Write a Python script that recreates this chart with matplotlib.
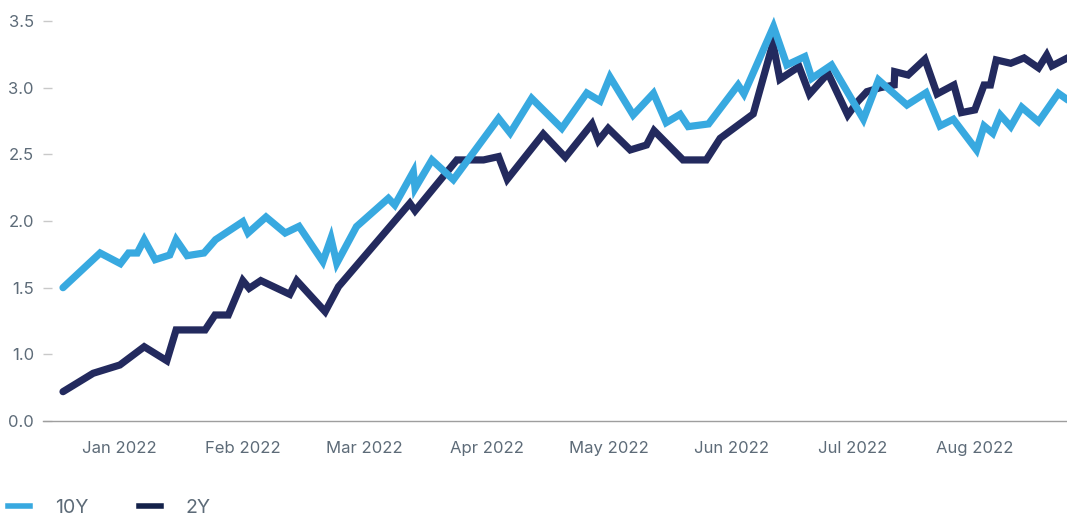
import matplotlib
matplotlib.use("Agg")
import matplotlib.pyplot as plt
from matplotlib.lines import Line2D

# x positions are in trading-session units (0 = start of the series, ~21 per month)
x_10y = [0, 6.4, 9.9, 11.3, 12.8, 14.0, 15.9, 18.4, 19.5, 21.4, 24.3, 26.3, 31.0, 31.9,
         35.0, 38.3, 40.7, 44.8, 46.2, 47.2, 50.6, 56.1, 57.2, 60.4, 60.7, 63.6, 67.3,
         75.1, 77.1, 80.8, 86.0, 90.3, 92.6, 94.3, 98.3, 101.8, 104.0, 106.4, 107.8,
         111.3, 116.4, 117.4, 122.5, 124.8, 127.9, 129.1, 132.5, 138.0, 140.6, 145.5,
         148.8, 151.2, 153.5, 157.5, 158.8, 160.3, 161.6, 163.4, 165.3, 168.2, 171.6, 173.5]
y_10y = [1.50, 1.76, 1.68, 1.76, 1.76, 1.86, 1.71, 1.745, 1.86, 1.74, 1.76, 1.86, 1.995, 1.91,
         2.03, 1.91, 1.96, 1.695, 1.87, 1.683, 1.958, 2.17, 2.12, 2.37, 2.245, 2.458, 2.31,
         2.77, 2.66, 2.92, 2.695, 2.96, 2.90, 3.08, 2.795, 2.958, 2.738, 2.80, 2.708,
         2.728, 3.02, 2.953, 3.458, 3.17, 3.233, 3.07, 3.17, 2.763, 3.058, 2.87,
         2.962, 2.713, 2.763, 2.533, 2.713, 2.658, 2.795, 2.708, 2.853, 2.745, 2.958, 2.90]

x_2y = [0, 5.2, 9.8, 14.0, 17.9, 19.5, 24.5, 26.2, 28.5, 31.0, 32.1, 34.1, 39.1, 40.3,
        45.2, 47.5, 59.8, 60.7, 67.9, 72.5, 75.1, 76.6, 82.8, 86.6, 91.2, 92.3, 94.0,
        97.8, 100.6, 101.9, 106.9, 110.9, 113.3, 119.0, 122.4, 123.6, 126.9, 128.7,
        131.9, 135.3, 137.0, 138.6, 140.9, 143.3, 143.4, 145.7, 148.6, 150.7, 153.6, 154.9,
        157.2, 158.8, 159.9, 160.9, 163.4, 165.7, 168.2, 169.6, 170.5, 173.5]
y_2y = [0.72, 0.858, 0.92, 1.057, 0.952, 1.183, 1.183, 1.295, 1.295, 1.553, 1.495, 1.553, 1.45, 1.553,
        1.32, 1.508, 2.133, 2.077, 2.458, 2.458, 2.483, 2.313, 2.653, 2.478, 2.728, 2.603, 2.695,
        2.533, 2.57, 2.678, 2.458, 2.458, 2.62, 2.803, 3.333, 3.063, 3.158, 2.952,
        3.108, 2.795, 2.895, 2.97, 3.0, 3.02, 3.12, 3.095, 3.213, 2.953, 3.02, 2.813,
        2.833, 3.02, 3.02, 3.208, 3.183, 3.223, 3.148, 3.245, 3.163, 3.23]

month_ticks = [9.8, 31.0, 52.0, 73.1, 94.2, 115.2, 136.2, 157.2]
month_labels = ["Jan 2022", "Feb 2022", "Mar 2022", "Apr 2022", "May 2022",
                "Jun 2022", "Jul 2022", "Aug 2022"]
y_ticks = [0.5, 1.0, 1.5, 2.0, 2.5, 3.0, 3.5]
y_labels = ["0.0", "1.0", "1.5", "2.0", "2.5", "3.0", "3.5"]

c10 = "#38a9e0"
c2 = "#232a5e"
txt = "#5d6b78"

plt.rcParams['font.family'] = ['Inter', 'DejaVu Sans']

W, H = 1067, 519
fig = plt.figure(figsize=(W / 100, H / 100), dpi=100)
ax = fig.add_axes([43 / W, 98 / H, 1024 / W, 411 / H])

ax.plot(x_2y, y_2y, color=c2, lw=5.2, solid_joinstyle='miter', solid_capstyle='round', zorder=2)
ax.plot(x_10y, y_10y, color=c10, lw=5.2, solid_joinstyle='miter', solid_capstyle='round', zorder=3)

ax.set_xlim(-3.45, 173.1)
ax.set_ylim(0.5, 0.5 + 411 / 133.33)

for s in ["top", "right", "left"]:
    ax.spines[s].set_visible(False)
ax.spines["bottom"].set_color("#9e9e9e")
ax.spines["bottom"].set_linewidth(1)

ax.set_yticks(y_ticks)
ax.set_yticklabels(y_labels)
ax.tick_params(axis='y', direction='in', length=6.5, width=1, color="#c9c9c9",
               pad=6.5, labelsize=12, labelcolor=txt)
ax.set_xticks(month_ticks)
ax.set_xticklabels(month_labels)
ax.tick_params(axis='x', length=0, pad=14.5, labelsize=12, labelcolor=txt)

handles = [Line2D([], [], color=c10, lw=4), Line2D([], [], color="#14214a", lw=4)]
fig.legend(handles, ["10Y", "2Y"], loc='center left', bbox_to_anchor=(8 / W, 11 / H),
           ncol=2, frameon=False, borderpad=0, borderaxespad=0, handlelength=1.15,
           handletextpad=1.25, columnspacing=2.6, fontsize=14, labelcolor=txt)

fig.savefig("out.png", dpi=100)
